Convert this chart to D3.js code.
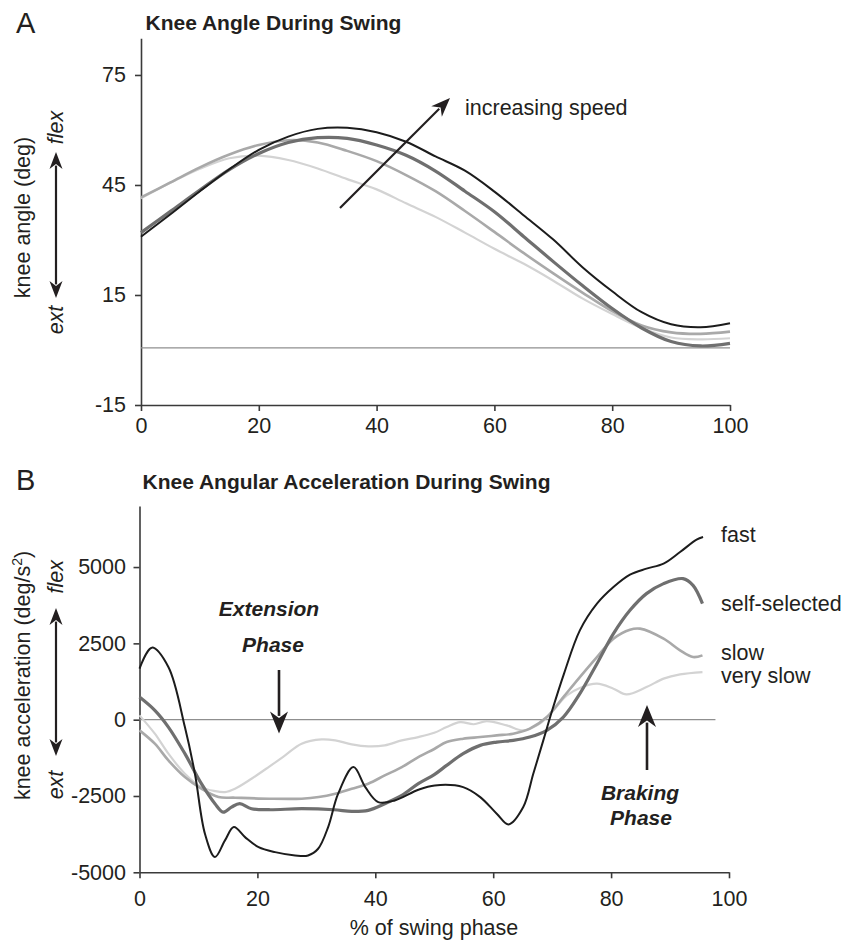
<!DOCTYPE html>
<html>
<head>
<meta charset="utf-8">
<script src="https://cdn.jsdelivr.net/npm/d3@7"></script>
<style>
  html, body { margin: 0; padding: 0; background: #fff; }
  svg { display: block; }
  text { font-family: "Liberation Sans", Arial, Helvetica, sans-serif; fill: #231f20; }
</style>
</head>
<body>
<svg id="chart" width="841" height="941"></svg>
<script>
// ---------------- Panel A data: knee angle (deg) vs % swing ----------------
const anglePct = [0,5,10,15,20,25,30,35,40,45,50,55,60,65,70,75,80,85,90,95,100];
const angleFast = [30.9,37.0,43.3,49.3,54.6,58.2,60.3,60.6,59.4,56.8,52.8,48.9,43.2,36.7,30.1,22.5,16.0,10.3,7.0,6.2,7.3];
const angleSelf = [32.0,37.8,43.6,49.2,53.6,56.6,57.9,57.7,55.9,53.1,48.8,43.3,37.7,30.9,24.1,17.5,11.3,6.0,2.3,1.1,1.8];
const angleSlow = [41.6,45.7,49.8,53.3,55.9,57.2,56.6,54.3,51.5,47.7,43.3,37.9,32.2,26.4,20.9,15.6,10.6,6.7,4.8,4.4,5.0];
const angleVerySlow = [41.4,45.6,49.4,52.3,53.0,51.8,49.5,46.6,43.8,40.0,36.3,32.0,27.6,23.5,18.9,14.0,9.8,6.0,3.4,2.9,3.2];
const angleTicksY = [-15,15,45,75];
const pctTicks = [0,20,40,60,80,100];

// ---------------- Panel B data: knee angular acceleration (deg/s^2) ----------------
const accFastPct = [0,2.1,4.9,7.7,9.4,11.1,12.8,14.5,16,17.9,20.2,23,26.4,28.6,30.3,32,33.7,36.3,38.3,40.5,43.3,47.3,50.1,54.9,57.8,60.6,62.6,65.1,66.8,68.5,70,72,74.7,77.6,80.4,83.2,86,88.9,91.7,94.5,95.6];
const accFast = [1671,2360,1724,-242,-1770,-3736,-4502,-3955,-3519,-3847,-4175,-4339,-4447,-4447,-4228,-3519,-2425,-1553,-2209,-2700,-2645,-2294,-2153,-2209,-2536,-3080,-3431,-2864,-1770,-678,300,1500,2926,3801,4345,4752,4948,5112,5492,5898,5984];

const accSelfPct = [0,2.6,4.9,7.7,10.5,12.8,14.2,15.6,17,19,22,27.5,33,36,38.8,41.6,44.5,47.3,50,52.1,54.9,57.8,60.6,63.4,66.2,69.1,71.9,74.7,77.6,80.4,83.2,86,88.9,92.2,93.9,95.5];
const accSelf = [741,305,-242,-1114,-2097,-2753,-3028,-2864,-2753,-2917,-2950,-2917,-2950,-3005,-2970,-2753,-2481,-2097,-1800,-1498,-1114,-842,-734,-678,-570,-351,85,852,1835,2818,3582,4129,4457,4621,4401,3801];

const accSlowPct = [0,2.6,4.9,7.7,10.5,13.4,16.2,22,27.5,30.4,33.2,36,38.8,41.6,44.5,47.3,50,52.1,54.9,57.8,60.6,63.4,66.2,69.1,71.9,74.7,77.6,80.4,83.2,84.9,88.9,91.7,93.9,95.5];
const accSlow = [-351,-787,-1334,-1881,-2261,-2536,-2556,-2589,-2589,-2536,-2425,-2261,-2097,-1825,-1553,-1226,-960,-734,-623,-570,-514,-459,-295,85,741,1396,2051,2654,2949,2982,2654,2271,2051,2107];

const accVerySlowPct = [0,2.6,4.9,7.7,10.5,12.8,14.5,16.2,19,21.9,24.7,27.5,30.9,33.2,36,38.8,41.6,44.5,47.3,50,52.1,54.4,56.7,58.9,62.3,65.1,67.9,70.2,72.5,74.7,77.6,80.4,82.6,86,88.9,91.7,95.5];
const accVerySlow = [141,-459,-1114,-1770,-2209,-2340,-2372,-2261,-1934,-1553,-1170,-787,-646,-678,-809,-875,-842,-678,-570,-430,-242,-79,-150,-50,-187,-351,-131,305,796,1040,1180,1016,829,1068,1344,1484,1560];

const accTicksY = [-5000,-2500,0,2500,5000];
const seriesNames = ["fast","self-selected","slow","very slow"];

// ---------------- styles ----------------
const colors = {fast:"#1c1c1c", self:"#6f6f6f", slow:"#a9a9a9", vslow:"#d3d3d3"};
const widths = {fast:2, self:3.2, slow:2.6, vslow:2.2};
const FONT = 21.5;
const AXIS_COLOR = "#3a3a3a";
const plainFmt = d => String(d);

const svg = d3.select("#chart");

// scales
const xA = d3.scaleLinear().domain([0,100]).range([141,730]);
const yA = d3.scaleLinear().domain([-15,85]).range([405,38.3]);
const xB = d3.scaleLinear().domain([0,100]).range([139.5,729]);
const yB = d3.scaleLinear().domain([-5000,7000]).range([872.3,506.0]);

function styleAxis(g){
  g.select(".domain").attr("stroke", AXIS_COLOR).attr("stroke-width", 1.6);
  g.selectAll(".tick line").attr("stroke", AXIS_COLOR).attr("stroke-width", 1.6);
  g.selectAll(".tick text").attr("fill", "#231f20")
    .style("font-family", '"Liberation Sans", Arial, sans-serif')
    .style("font-size", FONT + "px");
}

// -------- Panel A axes --------
svg.append("g").attr("transform", `translate(0,${yA(-15)})`)
  .call(d3.axisBottom(xA).tickValues(pctTicks).tickFormat(plainFmt).tickSize(6).tickSizeOuter(0).tickPadding(7))
  .call(styleAxis);
svg.append("g").attr("transform", `translate(${xA(0)},0)`)
  .call(d3.axisLeft(yA).tickValues(angleTicksY).tickFormat(plainFmt).tickSize(6).tickSizeOuter(0).tickPadding(9))
  .call(styleAxis);

// zero line A
svg.append("line").attr("x1", xA(0)).attr("x2", xA(100))
  .attr("y1", yA(0.6)).attr("y2", yA(0.6))
  .attr("stroke", "#8f8f8f").attr("stroke-width", 1.3);

// curves A
const lineA = d3.line().x(d => xA(d[0])).y(d => yA(d[1])).curve(d3.curveCatmullRom.alpha(0.5));
const seriesA = [
  {v: angleVerySlow, c: colors.vslow, w: widths.vslow},
  {v: angleSlow, c: colors.slow, w: widths.slow},
  {v: angleSelf, c: colors.self, w: widths.self},
  {v: angleFast, c: colors.fast, w: widths.fast}
];
seriesA.forEach(s => {
  svg.append("path").datum(anglePct.map((p,i) => [p, s.v[i]]))
    .attr("d", lineA).attr("fill","none").attr("stroke", s.c).attr("stroke-width", s.w)
    .attr("stroke-linejoin","round").attr("stroke-linecap","butt");
});

// -------- Panel B axes --------
svg.append("g").attr("transform", `translate(0,${yB(-5000)})`)
  .call(d3.axisBottom(xB).tickValues(pctTicks).tickFormat(plainFmt).tickSize(6).tickSizeOuter(0).tickPadding(12))
  .call(styleAxis);
svg.append("g").attr("transform", `translate(${xB(0)},0)`)
  .call(d3.axisLeft(yB).tickValues(accTicksY).tickFormat(plainFmt).tickSize(6).tickSizeOuter(0).tickPadding(7.5))
  .call(styleAxis);

// zero line B
svg.append("line").attr("x1", xB(0)).attr("x2", xB(97.7))
  .attr("y1", yB(0)).attr("y2", yB(0))
  .attr("stroke", "#8f8f8f").attr("stroke-width", 1.3);

const lineB = d3.line().x(d => xB(d[0])).y(d => yB(d[1])).curve(d3.curveCatmullRom.alpha(0.5));
const seriesB = [
  {p: accVerySlowPct, v: accVerySlow, c: colors.vslow, w: widths.vslow},
  {p: accSlowPct, v: accSlow, c: colors.slow, w: widths.slow},
  {p: accSelfPct, v: accSelf, c: colors.self, w: widths.self},
  {p: accFastPct, v: accFast, c: colors.fast, w: widths.fast}
];
seriesB.forEach(s => {
  svg.append("path").datum(s.p.map((p,i) => [p, s.v[i]]))
    .attr("d", lineB).attr("fill","none").attr("stroke", s.c).attr("stroke-width", s.w)
    .attr("stroke-linejoin","round").attr("stroke-linecap","butt");
});

// -------- arrows helper --------
function arrow(x1, y1, x2, y2, opts = {}) {
  const hl = opts.hl || 16, hw = opts.hw || 13, both = !!opts.both, sw = opts.sw || 2.2;
  const dx = x2 - x1, dy = y2 - y1, L = Math.hypot(dx, dy);
  const ux = dx / L, uy = dy / L;
  const sx = both ? x1 + ux * hl * 0.8 : x1, sy = both ? y1 + uy * hl * 0.8 : y1;
  const ex = x2 - ux * hl * 0.8, ey = y2 - uy * hl * 0.8;
  svg.append("line").attr("x1", sx).attr("y1", sy).attr("x2", ex).attr("y2", ey)
    .attr("stroke", "#231f20").attr("stroke-width", sw);
  const head = (tx, ty, dirx, diry) => {
    const bx = tx - dirx * hl, by = ty - diry * hl;
    const nx = -diry, ny = dirx;
    const mx = tx - dirx * hl * 0.7, my = ty - diry * hl * 0.7;
    svg.append("path")
      .attr("d", `M${tx},${ty} L${bx + nx*hw/2},${by + ny*hw/2} L${mx},${my} L${bx - nx*hw/2},${by - ny*hw/2} Z`)
      .attr("fill", "#231f20");
  };
  head(x2, y2, ux, uy);
  if (both) head(x1, y1, -ux, -uy);
}

// increasing speed arrow
arrow(340, 208, 450, 98, {hl: 19, hw: 15, sw: 2.2});
svg.append("text").attr("x", 465).attr("y", 115).style("font-size", FONT + "px").text("increasing speed");

// flex/ext arrows
arrow(56, 298, 56, 152, {both: true, hl: 17, hw: 13, sw: 2.2});
arrow(56, 756, 56, 608, {both: true, hl: 17, hw: 13, sw: 2.2});

// extension & braking arrows
arrow(279, 670, 279, 733.5, {hl: 22, hw: 18, sw: 2.6});
arrow(647, 770, 647, 705, {hl: 22, hw: 18, sw: 2.6});

// -------- text --------
svg.append("text").attr("x", 16).attr("y", 33).style("font-size", "29px").text("A");
svg.append("text").attr("x", 16).attr("y", 490).style("font-size", "29px").text("B");

svg.append("text").attr("x", 145.5).attr("y", 30).style("font-size", "21px").style("font-weight", "bold")
  .text("Knee Angle During Swing");
svg.append("text").attr("x", 142.5).attr("y", 489).style("font-size", "21px").style("font-weight", "bold")
  .text("Knee Angular Acceleration During Swing");

// y axis labels
svg.append("text").attr("transform", "translate(30,217.5) rotate(-90)").attr("text-anchor","middle")
  .style("font-size", FONT + "px").text("knee angle (deg)");
const accLab = svg.append("text").attr("transform", "translate(30,675.5) rotate(-90)").attr("text-anchor","middle")
  .style("font-size", FONT + "px");
accLab.append("tspan").text("knee acceleration (deg/s");
accLab.append("tspan").attr("baseline-shift","super").style("font-size", "14px").text("2");
accLab.append("tspan").text(")");

// flex / ext labels
function rotItalic(x, y, t) {
  svg.append("text").attr("transform", `translate(${x},${y}) rotate(-90)`).attr("text-anchor","middle")
    .style("font-size", FONT + "px").style("font-style","italic").text(t);
}
rotItalic(63, 127.5, "flex");
rotItalic(63, 320, "ext");
rotItalic(63, 576.7, "flex");
rotItalic(63, 785, "ext");

// phase labels
function boldItalic(x, y, t) {
  svg.append("text").attr("x", x).attr("y", y).attr("text-anchor","middle")
    .style("font-size", "21px").style("font-weight","bold").style("font-style","italic").text(t);
}
boldItalic(269, 616, "Extension");
boldItalic(273, 651.5, "Phase");
boldItalic(640, 800, "Braking");
boldItalic(641, 825, "Phase");

// series labels
const labelY = [541.7, 610.7, 660, 683.3];
seriesNames.forEach((n, i) => {
  svg.append("text").attr("x", 721).attr("y", labelY[i]).style("font-size", FONT + "px").text(n);
});

// x axis title
svg.append("text").attr("x", 434).attr("y", 935).attr("text-anchor","middle")
  .style("font-size", FONT + "px").text("% of swing phase");
</script>
</body>
</html>
